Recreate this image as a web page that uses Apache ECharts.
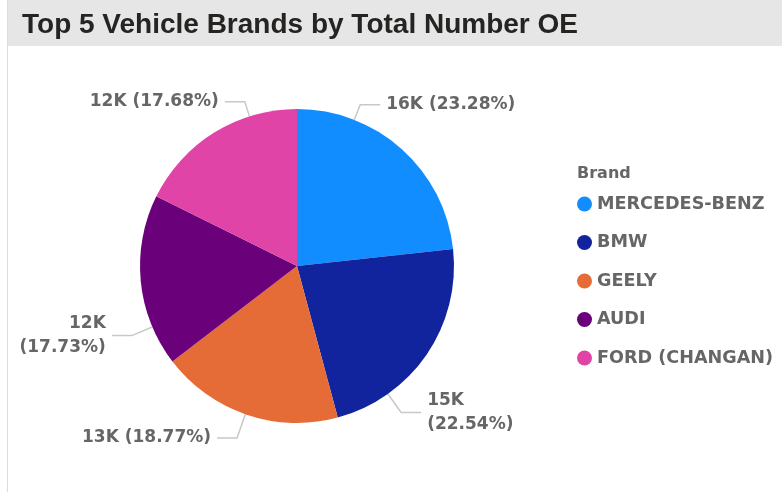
<!DOCTYPE html>
<html>
<head>
<meta charset="utf-8">
<script src="https://cdn.jsdelivr.net/npm/echarts@6/dist/echarts.min.js"></script>
<style>
  html, body { margin: 0; padding: 0; background: #fff; }
  #chart { width: 782px; height: 492px; }
</style>
</head>
<body>
<div id="chart"></div>
<script>
// brand names and totals
var brands = ['MERCEDES-BENZ', 'BMW', 'GEELY', 'AUDI', 'FORD (CHANGAN)'];
var totals = [15993, 15485, 12895, 12181, 12146];
var colors = ['#118DFF', '#12239E', '#E66C37', '#6B007B', '#E044A7'];
// labels that wrap onto two lines in the original
var wrapped = ['BMW', 'AUDI'];
// small nudges so the outside labels sit where the original put them
var labelNudge = [[-50, -34], [-36, 50], [-6, 10], [4, 53], [37, -19]];

var pieCenter = [297, 266];
var pieRadius = 157;

var sum = totals.reduce(function (a, b) { return a + b; }, 0);

var chart = echarts.init(document.getElementById('chart'));

// redraw the leader line: from the rim, pointing at the elbow, then flat to the text
function leaderLine(rect, dx, dy) {
  var x = rect.x + dx, y = rect.y + dy;
  var right = x + rect.width / 2 > pieCenter[0];
  var endX = right ? x - 6 : x + rect.width + 6;
  var endY = y + rect.height / 2;
  var elbowX = right ? endX - 20 : endX + 20;
  var vx = elbowX - pieCenter[0], vy = endY - pieCenter[1];
  var len = Math.sqrt(vx * vx + vy * vy);
  var sx = pieCenter[0] + vx / len * pieRadius;
  var sy = pieCenter[1] + vy / len * pieRadius;
  return [[sx, sy], [elbowX, endY], [endX, endY]];
}

var option = {
  animation: false,
  color: colors,
  graphic: [
    {
      type: 'rect',
      shape: { x: 8, y: 0, width: 774, height: 46 },
      style: { fill: '#e6e6e6' }
    },
    {
      type: 'line',
      shape: { x1: 7.5, y1: 0, x2: 7.5, y2: 492 },
      style: { stroke: '#dcdcdc', lineWidth: 1 }
    }
  ],
  title: [
    {
      text: 'Top 5 Vehicle Brands by Total Number OE',
      left: 17,
      top: 6,
      textStyle: {
        fontFamily: 'Liberation Sans',
        fontWeight: 'bold',
        fontSize: 28,
        color: '#252423'
      }
    },
    {
      text: 'Brand',
      left: 572,
      top: 161,
      textStyle: {
        fontFamily: 'DejaVu Sans',
        fontWeight: 'bold',
        fontSize: 16,
        color: '#666666'
      }
    }
  ],
  legend: {
    orient: 'vertical',
    left: 572,
    top: 190,
    icon: 'circle',
    itemWidth: 15,
    itemHeight: 15,
    itemGap: 20.5,
    data: brands,
    textStyle: {
      fontFamily: 'DejaVu Sans',
      fontWeight: 'bold',
      fontSize: 17.6,
      lineHeight: 18,
      color: '#666666'
    }
  },
  series: [
    {
      type: 'pie',
      center: pieCenter,
      radius: pieRadius,
      startAngle: 90,
      clockwise: true,
      data: brands.map(function (b, i) {
        return { name: b, value: totals[i] };
      }),
      label: {
        show: true,
        position: 'outside',
        fontFamily: 'DejaVu Sans',
        fontWeight: 'bold',
        fontSize: 17,
        lineHeight: 24,
        color: '#666666',
        formatter: function (p) {
          var k = Math.round(p.value / 1000) + 'K';
          var pct = '(' + (p.value / sum * 100).toFixed(2) + '%)';
          return k + (wrapped.indexOf(p.name) >= 0 ? '\n' : ' ') + pct;
        }
      },
      labelLine: {
        show: true,
        length: 14,
        length2: 20,
        lineStyle: { color: '#c8c8c8', width: 1.5 }
      },
      labelLayout: function (params) {
        var n = labelNudge[params.dataIndex];
        return {
          dx: n[0],
          dy: n[1],
          labelLinePoints: leaderLine(params.labelRect, n[0], n[1])
        };
      },
      emphasis: { disabled: true }
    }
  ]
};

chart.setOption(option);
</script>
</body>
</html>
